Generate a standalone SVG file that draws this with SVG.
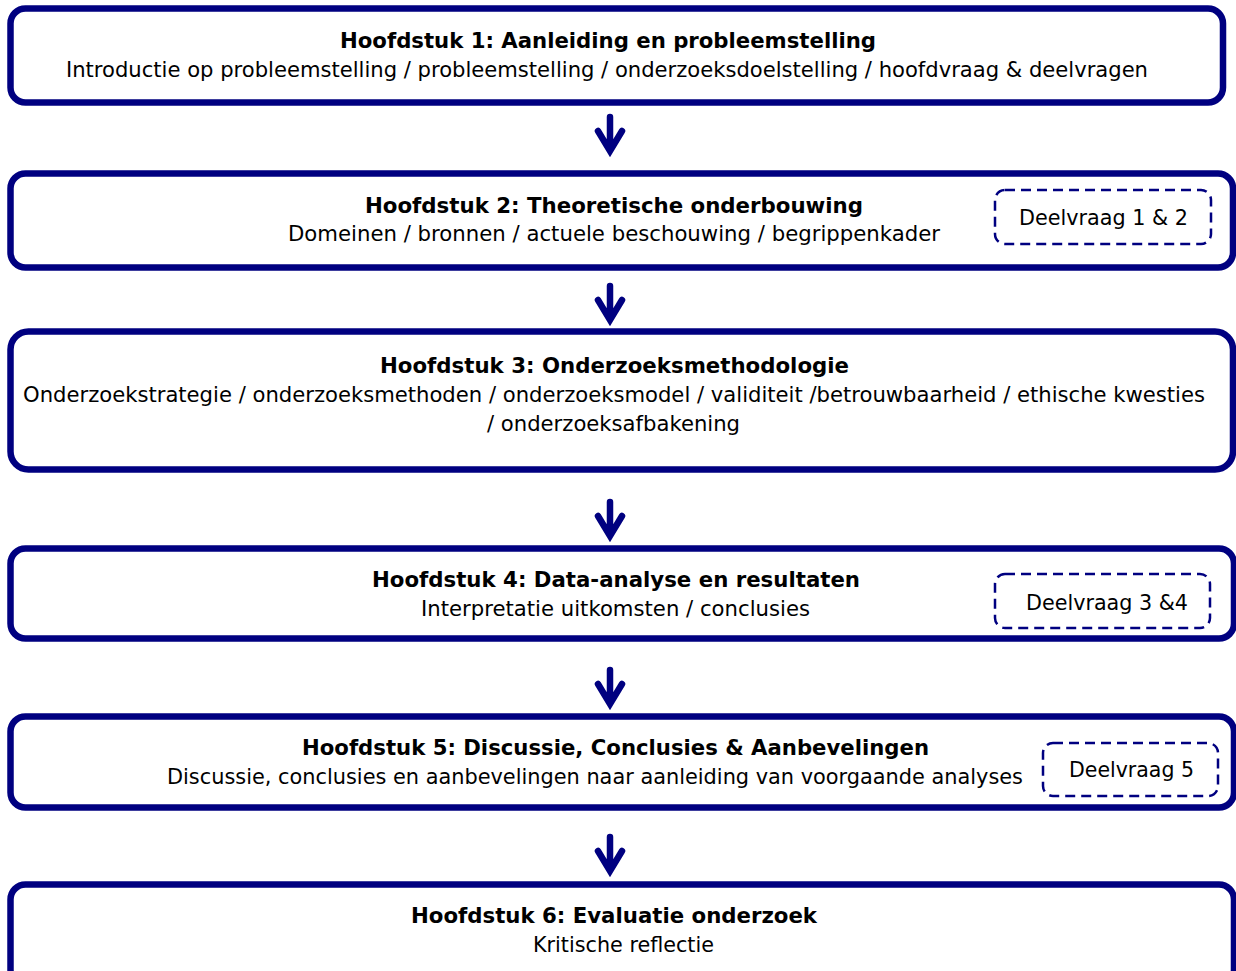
<svg xmlns="http://www.w3.org/2000/svg" width="1236" height="971" viewBox="0 0 1236 971">
<style>
.box{fill:#fff;stroke:#000080;stroke-width:6.5}
.dash{fill:none;stroke:#000080;stroke-width:2.5;stroke-dasharray:10 6}
.t{font-family:"DejaVu Sans","Liberation Sans",sans-serif;font-size:22px;font-weight:bold;fill:#000}
.s{font-family:"DejaVu Sans","Liberation Sans",sans-serif;font-size:22px;fill:#000}
.arr{fill:none;stroke:#000080;stroke-width:6.5;stroke-linejoin:miter;stroke-linecap:round}
</style>
<rect width="1236" height="971" fill="#fff"/>
<g id="connectors">
<path class="arr" d="M610,117 V150 M598,131 L610,151 L622,131"/>
<path class="arr" d="M610,286 V319 M598,300 L610,320 L622,300"/>
<path class="arr" d="M610,502 V535 M598,516 L610,536 L622,516"/>
<path class="arr" d="M610,670 V703 M598,684 L610,704 L622,684"/>
<path class="arr" d="M610,837 V870 M598,851 L610,871 L622,851"/>
</g>
<g id="node1">
<rect class="box" x="10.5" y="8.5" width="1212.5" height="94" rx="15"/>
<text class="t" x="340" y="48" textLength="536" lengthAdjust="spacingAndGlyphs">Hoofdstuk 1: Aanleiding en probleemstelling</text>
<text class="s" x="66" y="77" textLength="1082" lengthAdjust="spacingAndGlyphs">Introductie op probleemstelling / probleemstelling / onderzoeksdoelstelling / hoofdvraag &amp; deelvragen</text>
</g>
<g id="node2">
<rect class="box" x="10.5" y="173.5" width="1222.5" height="94" rx="15"/>
<text class="t" x="365" y="213" textLength="498" lengthAdjust="spacingAndGlyphs">Hoofdstuk 2: Theoretische onderbouwing</text>
<text class="s" x="288" y="241" textLength="652" lengthAdjust="spacingAndGlyphs">Domeinen / bronnen / actuele beschouwing / begrippenkader</text>
</g>
<g id="dv12">
<rect class="dash" x="995" y="190" width="216" height="54" rx="10"/>
<text class="s" x="1019" y="225" textLength="169" lengthAdjust="spacingAndGlyphs">Deelvraag 1 &amp; 2</text>
</g>
<g id="node3">
<rect class="box" x="10.5" y="331.5" width="1222.5" height="138" rx="18"/>
<text class="t" x="380" y="373" textLength="469" lengthAdjust="spacingAndGlyphs">Hoofdstuk 3: Onderzoeksmethodologie</text>
<text class="s" x="23" y="402" textLength="1182" lengthAdjust="spacingAndGlyphs">Onderzoekstrategie / onderzoeksmethoden / onderzoeksmodel / validiteit /betrouwbaarheid / ethische kwesties</text>
<text class="s" x="487" y="431" textLength="253" lengthAdjust="spacingAndGlyphs">/ onderzoeksafbakening</text>
</g>
<g id="node4">
<rect class="box" x="10.5" y="548.5" width="1223.5" height="90" rx="15"/>
<text class="t" x="372" y="587" textLength="488" lengthAdjust="spacingAndGlyphs">Hoofdstuk 4: Data-analyse en resultaten</text>
<text class="s" x="421" y="616" textLength="389" lengthAdjust="spacingAndGlyphs">Interpretatie uitkomsten / conclusies</text>
</g>
<g id="dv34">
<rect class="dash" x="995" y="574" width="215" height="54" rx="10"/>
<text class="s" x="1026" y="610" textLength="162" lengthAdjust="spacingAndGlyphs">Deelvraag 3 &amp;4</text>
</g>
<g id="node5">
<rect class="box" x="10.5" y="716.5" width="1223.5" height="91" rx="15"/>
<text class="t" x="302" y="755" textLength="627" lengthAdjust="spacingAndGlyphs">Hoofdstuk 5: Discussie, Conclusies &amp; Aanbevelingen</text>
<text class="s" x="167" y="784" textLength="856" lengthAdjust="spacingAndGlyphs">Discussie, conclusies en aanbevelingen naar aanleiding van voorgaande analyses</text>
</g>
<g id="dv5">
<rect class="dash" x="1043" y="743" width="175" height="53" rx="10"/>
<text class="s" x="1069" y="777" textLength="125" lengthAdjust="spacingAndGlyphs">Deelvraag 5</text>
</g>
<g id="node6">
<rect class="box" x="10.5" y="884.5" width="1223.5" height="100" rx="15"/>
<text class="t" x="411" y="923" textLength="406" lengthAdjust="spacingAndGlyphs">Hoofdstuk 6: Evaluatie onderzoek</text>
<text class="s" x="533" y="952" textLength="181" lengthAdjust="spacingAndGlyphs">Kritische reflectie</text>
</g>
</svg>
